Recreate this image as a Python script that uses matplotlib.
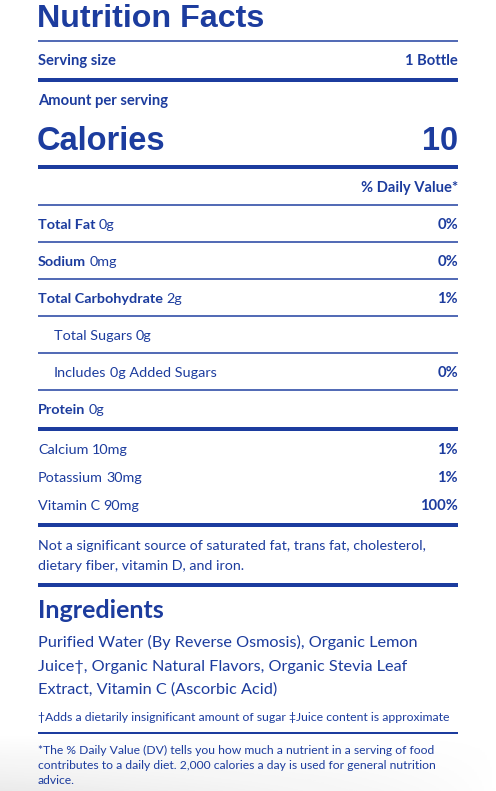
import numpy as np
import matplotlib
matplotlib.use('Agg')
from matplotlib import pyplot as plt

BLUE = '#1c3c9e'
BODY = 'Lato'
HEAD = 'Liberation Sans'

# label data
title = 'Nutrition Facts'
serving_label = 'Serving size'
serving_value = '1 Bottle'
calories = 10
nutrient_names = ['Total Fat', 'Sodium', 'Total Carbohydrate', 'Total Sugars', 'Includes', 'Protein']
nutrient_amounts = ['0g', '0mg', '2g', '0g', '0g Added Sugars', '0g']
nutrient_dv = ['0%', '0%', '1%', '', '0%', '']
nutrient_bold = [True, True, True, False, False, True]
nutrient_indent = [False, False, False, True, True, False]
mineral_names = ['Calcium', 'Potassium', 'Vitamin C']
mineral_amounts = ['10mg', '30mg', '90mg']
mineral_dv = ['1%', '1%', '100%']
not_significant = ['Not a significant source of saturated fat, trans fat, cholesterol,',
                   'dietary fiber, vitamin D, and iron.']
ingredients = ['Purified Water (By Reverse Osmosis), Organic Lemon',
               'Juice\u2020, Organic Natural Flavors, Organic Stevia Leaf',
               'Extract, Vitamin C (Ascorbic Acid)']
ingr_note = '\u2020Adds a dietarily insignificant amount of sugar \u2021Juice content is approximate'
dv_note = ['*The % Daily Value (DV) tells you how much a nutrient in a serving of food',
           'contributes to a daily diet. 2,000 calories a day is used for general nutrition',
           'advice.']

W, H = 496, 791
fig = plt.figure(figsize=(W / 100, H / 100), dpi=100)
ax = fig.add_axes([0, 0, 1, 1])
ax.set_xlim(0, W)
ax.set_ylim(H, 0)
ax.axis('off')

# soft shadow at the bottom
grad = np.linspace(0, 1, 60)[:, None] * np.linspace(1, 0, 200)[None, :] ** 0.7
ax.imshow(grad, extent=(0, 496, 791, 735), cmap='Greys', vmin=0, vmax=6,
          aspect='auto', zorder=0, alpha=0.9)

L, R = 38, 458

def rule(y, px):
    ax.plot([L, R], [y, y], color=BLUE, lw=px * 0.72, solid_capstyle='butt', zorder=2)

def txt(x, y, s, size, bold=False, ha='left', fam=BODY):
    return ax.text(x, y, s, fontsize=size, color=BLUE, ha=ha, va='baseline',
                   fontweight='bold' if bold else 'normal', family=fam, zorder=3)

renderer = fig.canvas.get_renderer()

def pair(x, y, name, amount, size, bold):
    t = txt(x, y, name, size, bold)
    if amount:
        bb = t.get_window_extent(renderer)
        x1 = ax.transData.inverted().transform((bb.x1, bb.y0))[0]
        txt(x1 + 3.5, y, amount, size)

txt(L - 1, 27, title, 23.2, True, fam=HEAD)
rule(41, 1.5)
txt(L, 65, serving_label, 10.6, True)
txt(R, 65, serving_value, 10.6, True, 'right')
rule(80, 4)
txt(L, 105, 'Amount per serving', 10.6, True)
txt(L - 1, 150, 'Calories', 23.5, True, fam=HEAD)
txt(R, 150, str(calories), 23.5, True, 'right', fam=HEAD)
rule(167, 4)
txt(R, 192, '% Daily Value*', 10.6, True, 'right')
rule(205, 1.5)

base = [229, 266, 303, 340, 377, 414]
for i, nm in enumerate(nutrient_names):
    x = L + 16 if nutrient_indent[i] else L
    pair(x, base[i], nm, nutrient_amounts[i], 10.4, nutrient_bold[i])
    if nutrient_dv[i]:
        txt(R, base[i], nutrient_dv[i], 10.6, True, 'right')
    if i < len(nutrient_names) - 1:
        rule(base[i] + 13, 1.5)
rule(429, 4)

mbase = [454, 482, 510]
for i, nm in enumerate(mineral_names):
    pair(L, mbase[i], nm, mineral_amounts[i], 10.4, False)
    txt(R, mbase[i], mineral_dv[i], 10.6, True, 'right')
rule(525, 4)

for i, s in enumerate(not_significant):
    txt(L, 550 + 20 * i, s, 10.3)
rule(585, 4)

txt(L, 618, 'Ingredients', 18, True)
for i, s in enumerate(ingredients):
    txt(L, 647 + 23.5 * i, s, 11.7)
txt(L, 721, ingr_note, 8.8)
rule(733, 2)
for i, s in enumerate(dv_note):
    txt(L, 754 + 15 * i, s, 8.7)

fig.savefig('out.png', dpi=100)
